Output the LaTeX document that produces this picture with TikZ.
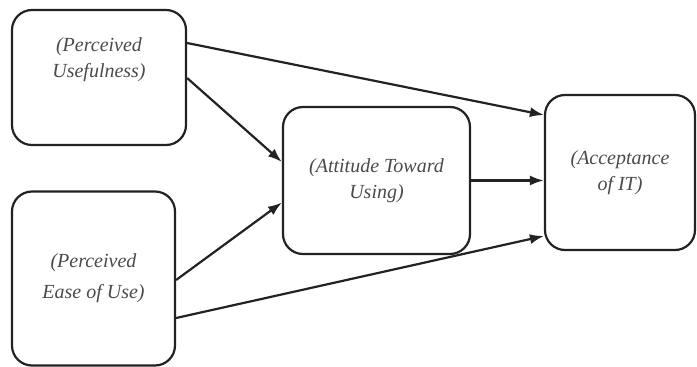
\documentclass[tikz,border=0pt]{standalone}
\usepackage{fontspec}
\setmainfont{Liberation Serif}
\usepackage{tikz}
\usetikzlibrary{shapes,arrows}
\usetikzlibrary{positioning}
\usetikzlibrary{arrows.meta}

\definecolor{boxline}{HTML}{222222}
\definecolor{boxtext}{HTML}{4A4A4A}

\tikzset{
	box/.style={draw=boxline, line width=2.2pt, rounded corners=20pt, align=center,
		text=boxtext, font=\fontsize{20}{26}\selectfont\itshape, inner sep=0pt},
	link/.style={draw=boxline, line width=2.2pt, -{Latex[length=14pt,width=10pt]}}
}

\begin{document}
\begin{tikzpicture}[x=1pt,y=-1pt]
	\useasboundingbox (0,0) rectangle (697,367);
	\node [box, minimum width=174pt, minimum height=135pt] (pu) at (99,77.5) {(Perceived\\Usefulness)\\[14pt]};
	\node [box, minimum width=163pt, minimum height=174pt] (peu) at (93.5,278.5) {(Perceived\\[5pt]Ease of Use)};
	\node [box, minimum width=187pt, minimum height=147pt] (atu) at (376.5,180.5) {(Attitude Toward\\Using)};
	\node [box, minimum width=150pt, minimum height=155pt] (ait) at (620,172.5) {(Acceptance\\of IT)};
	
	\draw [link] ([yshift=34.5pt]pu.east) -- ([yshift=57.5pt]ait.west);
	\draw [link] ([yshift=-0.5pt]pu.east) -- ([yshift=18.5pt]atu.west);
	\draw [link] ([yshift=-1.5pt]peu.east) -- ([yshift=-22pt]atu.west);
	\draw [link] ([yshift=-39.5pt]peu.east) -- ([yshift=-63.5pt]ait.west);
	\draw [link] (atu.east) -- (atu.east -| ait.west);
	%\draw [link] (atu.south) -- (ait.south);
\end{tikzpicture}
\end{document}
